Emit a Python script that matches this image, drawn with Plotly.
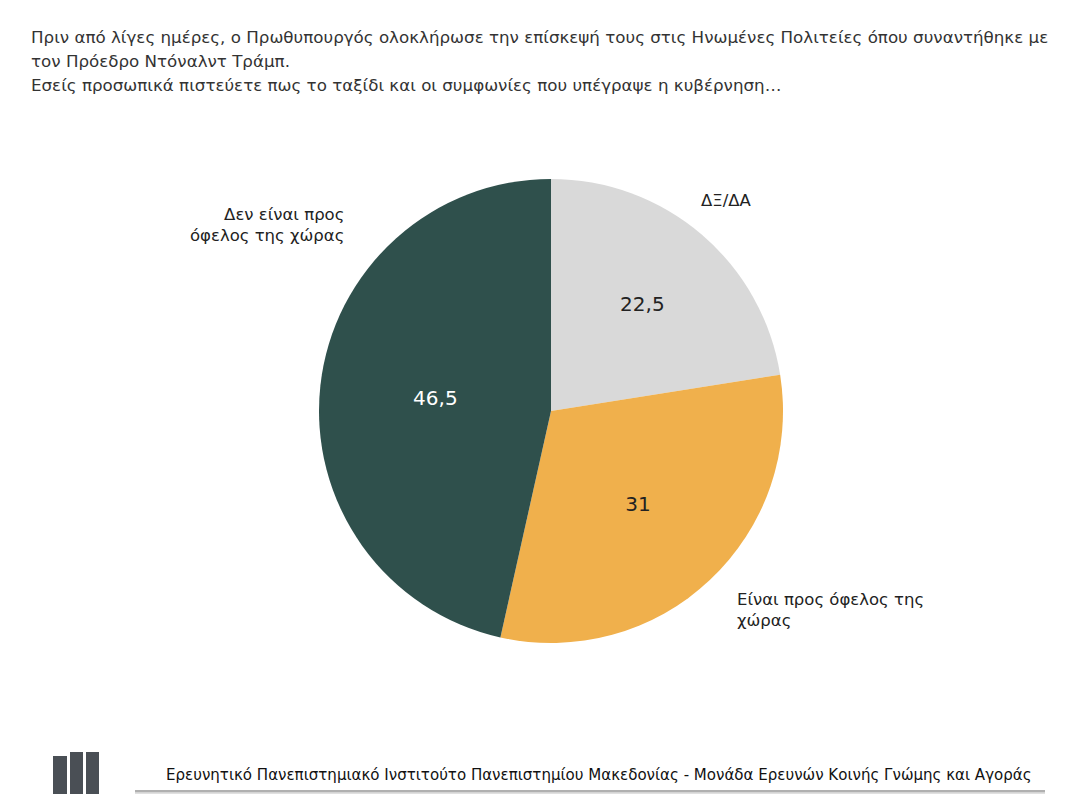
import plotly.graph_objects as go

labels = ["ΔΞ/ΔΑ", "Είναι προς όφελος της χώρας", "Δεν είναι προς όφελος της χώρας"]
values = [22.5, 31, 46.5]
value_text = ["22,5", "31", "46,5"]
colors = ["#d9d9d9", "#f0b04c", "#2f504c"]
text_colors = ["#222222", "#222222", "#ffffff"]

title_lines = [
    "Πριν από λίγες ημέρες, ο Πρωθυπουργός ολοκλήρωσε την επίσκεψή τους στις Ηνωμένες Πολιτείες όπου συναντήθηκε με",
    "τον Πρόεδρο Ντόναλντ Τράμπ.",
    "Εσείς προσωπικά πιστεύετε πως το ταξίδι και οι συμφωνίες που υπέγραψε η κυβέρνηση…",
]
footer_text = "Ερευνητικό Πανεπιστημιακό Ινστιτούτο Πανεπιστημίου Μακεδονίας - Μονάδα Ερευνών Κοινής Γνώμης και Αγοράς"

# page body has an 8px margin; figure drawn inside it
OFF = 8
W, H = 1089 - 2 * OFF, 802 - 2 * OFF


def px(x):
    return (x - OFF) / W


def py(y):
    return 1 - (y - OFF) / H


cx, cy, r = 551, 411, 232
font = "DejaVu Sans"

fig = go.Figure(go.Pie(
    labels=labels,
    values=values,
    text=value_text,
    textinfo="text",
    textposition="inside",
    insidetextorientation="horizontal",
    textfont=dict(size=20, color=text_colors, family=font),
    marker=dict(colors=colors, line=dict(width=0)),
    sort=False,
    direction="clockwise",
    rotation=0,
    showlegend=False,
    hoverinfo="label+value",
    domain=dict(x=[px(cx - r), px(cx + r)], y=[py(cy + r), py(cy - r)]),
))

annotations = []
for i, line in enumerate(title_lines):
    annotations.append(dict(
        text=line, x=px(29), y=py(37 + i * 24), xref="paper", yref="paper",
        xanchor="left", yanchor="middle", showarrow=False,
        font=dict(size=16.7, color="#333333", family=font)))

cat_labels = [
    dict(text="Δεν είναι προς<br>όφελος της χώρας", x=px(346), y=py(225),
         xanchor="right", yanchor="middle", align="right"),
    dict(text="ΔΞ/ΔΑ", x=px(699), y=py(201), xanchor="left", yanchor="middle", align="left"),
    dict(text="Είναι προς όφελος της<br>χώρας", x=px(735), y=py(610),
         xanchor="left", yanchor="middle", align="left"),
]
for a in cat_labels:
    a.update(xref="paper", yref="paper", showarrow=False,
             font=dict(size=16.5, color="#222222", family=font))
annotations += cat_labels

annotations.append(dict(
    text=footer_text, x=px(164), y=py(775), xref="paper", yref="paper",
    xanchor="left", yanchor="middle", showarrow=False,
    font=dict(size=15.05, color="#111111", family=font)))

shapes = []
# footer logo bars
for x0, x1, y0 in [(53, 67, 756), (70, 83, 752), (86, 99, 752)]:
    shapes.append(dict(type="rect", xref="paper", yref="paper",
                       x0=px(x0), x1=px(x1), y0=py(802), y1=py(y0),
                       fillcolor="#4a4f55", line=dict(width=0)))
# footer line with soft shadow
for col, off in [("#ececec", 4), ("#d4d4d4", 2.5), ("#b0b0b0", 1)]:
    shapes.append(dict(type="line", xref="paper", yref="paper",
                       x0=px(135), x1=px(1045), y0=py(790 + off), y1=py(790 + off),
                       line=dict(color=col, width=2)))

fig.update_layout(
    width=W, height=H,
    margin=dict(l=0, r=0, t=0, b=0),
    paper_bgcolor="white", plot_bgcolor="white",
    annotations=annotations,
    shapes=shapes,
)

fig.write_html("out.html")
